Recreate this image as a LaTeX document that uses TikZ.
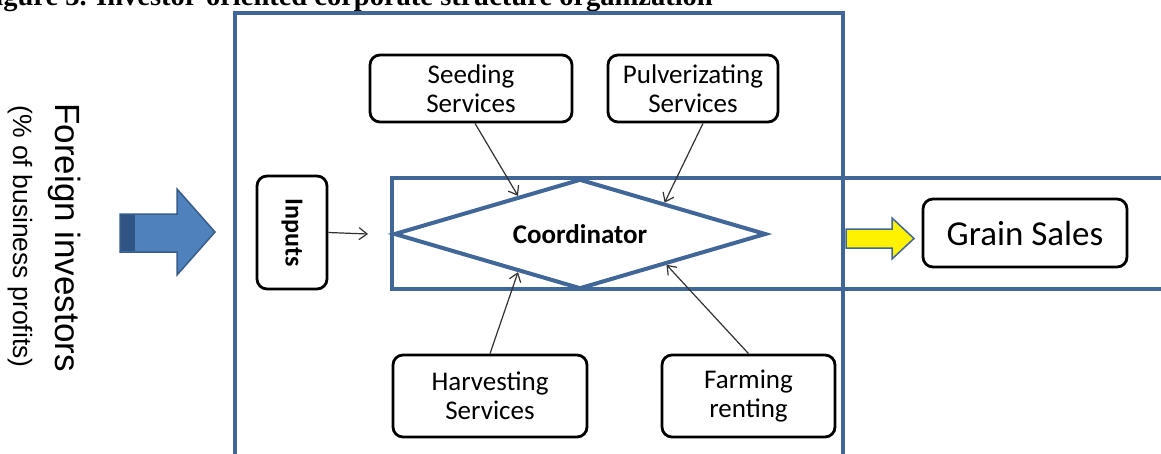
\documentclass[tikz,border=0pt]{standalone}
\usepackage{fontspec}
\setmainfont{Carlito}
\newfontfamily\arialf{Liberation Sans}
\newfontfamily\timesf{Liberation Serif}
\usetikzlibrary{arrows.meta,shapes.geometric,calc}
\definecolor{frameblue}{RGB}{65,102,152}
\definecolor{arrowblue}{RGB}{79,129,189}
\definecolor{arrowedge}{RGB}{56,93,138}
\definecolor{arrowdark}{RGB}{47,85,135}
\definecolor{linkgray}{RGB}{50,50,50}
\begin{document}
\begin{tikzpicture}[x=1pt,y=-1pt,
  frame/.style={draw=frameblue,line width=4pt},
  box/.style={draw=black,line width=2.8pt,rounded corners=10pt,align=center,inner sep=0pt,font=\fontsize{27}{29}\selectfont},
  link/.style={draw=linkgray,line width=1.2pt,-{Straight Barb[length=8pt,width=12pt]}},
  blockarrow/.style={line width=1.5pt,line join=miter}
]
\clip (0,0) rectangle (1161,453);
\fill[white] (0,0) rectangle (1161,453);
% clipped caption
\node[anchor=base east,font=\timesf\bfseries\fontsize{28.5}{32}\selectfont,inner sep=0pt] (cap) at (713,5) {Figure 3. Investor-oriented corporate structure organization};
% frames
\draw[frame] (235,12.5) rectangle (843,470);
\draw[frame] (392,178) rectangle (1180,289);
% coordinator
\node[diamond,aspect=3.4,draw=frameblue,line width=4pt,minimum width=372pt,minimum height=110pt,inner sep=0pt,font=\bfseries\fontsize{27}{29}\selectfont] (coord) at (580,234) {Coordinator};
% boxes
\node[box,minimum width=202pt,minimum height=67pt] (seed) at (471,88.5) {Seeding\\Services};
\node[box,minimum width=170pt,minimum height=67pt] (pulv) at (693,88.5) {Pulverizating\\Services};
\node[box,minimum width=194pt,minimum height=82pt] (harv) at (490,396) {Harvesting\\Services};
\node[box,minimum width=173pt,minimum height=82pt] (farm) at (748.5,396) {Farming\\renting};
\node[box,minimum width=70pt,minimum height=113pt,font=\bfseries\fontsize{26}{28}\selectfont] (inp) at (292,232.5) {\rotatebox{-90}{Inputs}};
\node[box,minimum width=204pt,minimum height=68pt,font=\fontsize{35}{40}\selectfont] (grain) at (1025,233) {Grain Sales};
% links
\draw[link] ($(seed.south)+(4,0)$) -- ($(coord.west)!0.67!(coord.north)$);
\draw[link] ($(pulv.south)+(10,0)$) -- ($(coord.north)!0.45!(coord.east)$);
\draw[link] (harv.north) -- ($(coord.west)!0.67!(coord.south)$);
\draw[link] (farm.north) -- ($(coord.south)!0.46!(coord.east)$);
\draw[link] (inp.east) -- ($(coord.west)+(-24,0)$);
% yellow arrow
\filldraw[blockarrow,fill=yellow,draw=frameblue] (846,229) -- (892,229) -- (892,218) -- (914,238.5) -- (892,259) -- (892,248) -- (846,248) -- cycle;
% blue arrow
\filldraw[blockarrow,fill=arrowblue,draw=arrowedge] (120,214) -- (177,214) -- (177,189) -- (215,232) -- (177,275) -- (177,252) -- (120,252) -- cycle;
\fill[arrowdark] (121,215) rectangle (135,251);
% investor text
\node[rotate=-90,anchor=base,font=\arialf\fontsize{35}{40}\selectfont,inner sep=0pt] (fi) at (55,237.5) {Foreign investors};
\node[rotate=-90,anchor=base,font=\arialf\fontsize{26.5}{30}\selectfont,inner sep=0pt] (fp) at (13,236.5) {(\% of business profits)};
\end{tikzpicture}
\end{document}
